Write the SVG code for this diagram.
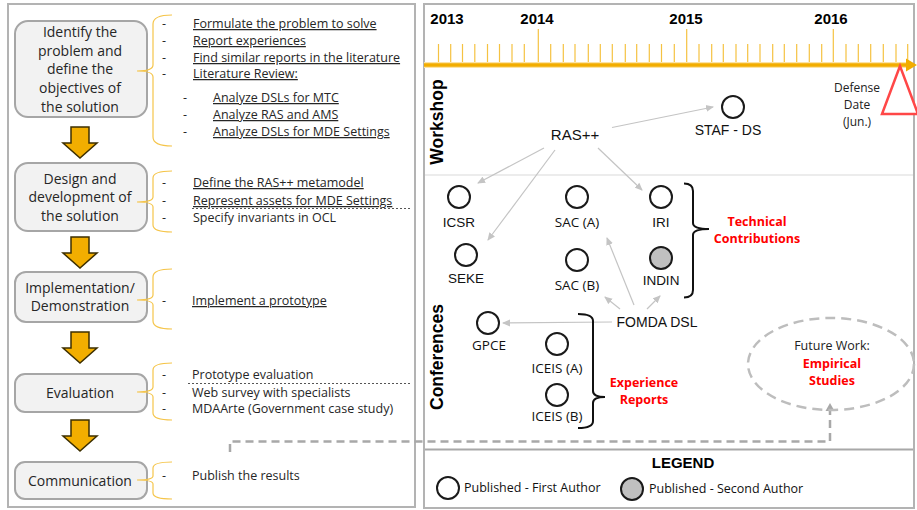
<svg xmlns="http://www.w3.org/2000/svg" width="917" height="510" viewBox="0 0 917 510">
<defs>
<style>
.panel{fill:#fff;stroke:#b3b3b3;stroke-width:2}
.box{fill:#f2f2f2;stroke:#a6a6a6;stroke-width:2}
.bt{font-family:"Open Sans","DejaVu Sans",sans-serif;font-size:14px;fill:#262626;text-anchor:middle}
.it{font-family:"Open Sans","DejaVu Sans",sans-serif;font-size:12.5px;fill:#262626}
.u{text-decoration:underline}
.brace{fill:none;stroke:#f5c54a;stroke-width:1.2}
.oarr{fill:#f2ae00;stroke:#3d2f00;stroke-width:1.5;stroke-linejoin:miter}
.dot{stroke:#555;stroke-width:1;stroke-dasharray:2,2}
.yr{font-family:"Liberation Sans",Arial,sans-serif;font-size:15px;font-weight:bold;fill:#000;text-anchor:middle}
.tick{stroke:#f5c242;stroke-width:1.2;fill:none}
.node{fill:#fff;stroke:#1a1a1a;stroke-width:2}
.node2{fill:#c0c0c0;stroke:#1a1a1a;stroke-width:2}
.lab{font-family:"Liberation Sans",Arial,sans-serif;font-size:13.5px;fill:#111;text-anchor:middle}
.lab2{font-family:"Open Sans","DejaVu Sans",sans-serif;font-size:13.5px;fill:#111;text-anchor:middle}
.red{font-family:"Open Sans","DejaVu Sans",sans-serif;font-size:12.5px;font-weight:bold;fill:#ff0000;text-anchor:middle}
.sm{font-family:"Open Sans","DejaVu Sans",sans-serif;font-size:12px;fill:#222;text-anchor:middle}
.conn{stroke:#c4c4c4;stroke-width:1.2;fill:none;marker-end:url(#ga)}
.bb{fill:none;stroke:#111;stroke-width:2}
.vt{font-family:"Liberation Sans",Arial,sans-serif;font-size:17.5px;font-weight:bold;fill:#000;text-anchor:middle}
.leg{font-family:"Open Sans","DejaVu Sans",sans-serif;font-size:12.5px;fill:#111}
</style>
<marker id="ga" markerWidth="8" markerHeight="8" refX="7" refY="4" orient="auto" markerUnits="userSpaceOnUse">
<path d="M0,0.5 L8,4 L0,7.5 Z" fill="#c4c4c4"/>
</marker>
<marker id="da" markerWidth="10" markerHeight="10" refX="5" refY="9" orient="0" markerUnits="userSpaceOnUse">
<path d="M0.5,9 L5,1 L9.5,9 Z" fill="#a8a8a8"/>
</marker>
</defs>
<rect width="917" height="510" fill="#fff"/>
<rect class="panel" x="8" y="4" width="407" height="503"/>
<rect class="panel" x="424" y="4" width="490" height="504"/>

<!-- Left panel: process steps -->
<g id="step1">
<rect class="box" x="15" y="21" width="132" height="96" rx="13"/>
<text class="bt" x="80" y="37">Identify the</text>
<text class="bt" x="80" y="56">problem and</text>
<text class="bt" x="80" y="74">define the</text>
<text class="bt" x="80" y="93">objectives of</text>
<text class="bt" x="80" y="112">the solution</text>
</g>
<g id="step1-items">
<path class="brace" d="M172,15 Q153,15 153,24 L153,65 Q153,71 137,71 Q153,71 153,77 L153,137 Q153,146 172,146"/>
<text class="it" x="162" y="28">-</text><text class="it u" x="193" y="28">Formulate the problem to solve</text>
<text class="it" x="162" y="45">-</text><text class="it u" x="193" y="45">Report experiences</text>
<text class="it" x="162" y="62">-</text><text class="it u" x="193" y="62">Find similar reports in the literature</text>
<text class="it" x="162" y="78">-</text><text class="it u" x="193" y="78">Literature Review:</text>
<text class="it" x="183" y="102">-</text><text class="it u" x="213" y="102">Analyze DSLs for MTC</text>
<text class="it" x="183" y="119">-</text><text class="it u" x="213" y="119">Analyze RAS and AMS</text>
<text class="it" x="183" y="136">-</text><text class="it u" x="213" y="136">Analyze DSLs for MDE Settings</text>
</g>
<g id="step2">
<rect class="box" x="15" y="163" width="132" height="68" rx="13"/>
<text class="bt" x="80" y="184">Design and</text>
<text class="bt" x="80" y="202">development of</text>
<text class="bt" x="80" y="221">the solution</text>
</g>
<g id="step2-items">
<path class="brace" d="M172,171 Q153,171 153,178 L153,197 Q153,202 137,202 Q153,202 153,207 L153,225 Q153,232 172,232"/>
<text class="it" x="162" y="187">-</text><text class="it u" x="193" y="187">Define the RAS++ metamodel</text>
<text class="it" x="162" y="205">-</text><text class="it u" x="193" y="205">Represent assets for MDE Settings</text>
<line class="dot" x1="192" y1="208.5" x2="411" y2="208.5"/>
<text class="it" x="162" y="222">-</text><text class="it" x="193" y="222">Specify invariants in OCL</text>
</g>
<g id="step3">
<rect class="box" x="15" y="272" width="132" height="50" rx="11"/>
<text class="bt" x="80" y="293">Implementation/</text>
<text class="bt" x="80" y="311">Demonstration</text>
</g>
<g id="step3-items">
<path class="brace" d="M172,269 Q153,269 153,277 L153,295 Q153,300 137,300 Q153,300 153,305 L153,321 Q153,329 172,329"/>
<text class="it" x="162" y="305">-</text><text class="it u" x="192" y="305">Implement a prototype</text>
</g>
<g id="step4">
<rect class="box" x="15" y="374" width="132" height="38" rx="10"/>
<text class="bt" x="80" y="398">Evaluation</text>
</g>
<g id="step4-items">
<path class="brace" d="M172,363 Q153,363 153,370 L153,387 Q153,392 137,392 Q153,392 153,397 L153,413 Q153,420 172,420"/>
<text class="it" x="162" y="379">-</text><text class="it" x="192" y="379">Prototype evaluation</text>
<line class="dot" x1="188" y1="383.5" x2="410" y2="383.5"/>
<text class="it" x="162" y="397">-</text><text class="it" x="192" y="397">Web survey with specialists</text>
<text class="it" x="162" y="413">-</text><text class="it" x="192" y="413">MDAArte (Government case study)</text>
</g>
<g id="step5">
<rect class="box" x="15" y="462" width="132" height="37" rx="10"/>
<text class="bt" x="80" y="486">Communication</text>
</g>
<g id="step5-items">
<path class="brace" d="M172,462 Q153,462 153,468 L153,476 Q153,480 137,480 Q153,480 153,484 L153,493 Q153,499 172,499"/>
<text class="it" x="162" y="480">-</text><text class="it" x="192" y="480">Publish the results</text>
</g>
<g id="flow-arrows">
<path class="oarr" d="M71,127 H89 V143 H97 L80,158 L63,143 H71 Z"/>
<path class="oarr" d="M71,237 H89 V253 H97 L80,268 L63,253 H71 Z"/>
<path class="oarr" d="M71,332 H89 V348 H97 L80,363 L63,348 H71 Z"/>
<path class="oarr" d="M71,420 H89 V436 H97 L80,451 L63,436 H71 Z"/>
</g>

<!-- Right panel: timeline -->
<g id="timeline">
<path class="tick" d="M438.5,44V64M450.7,44V64M462.5,44V64M474.8,44V64M487.5,44V64M499.5,44V64M512,44V64M524.3,44V64M538.3,29V64M550.7,44V64M563.3,44V64M575,44V64M588.3,44V64M600.3,44V64M612.3,44V64M625.3,44V64M636.7,44V64M649.3,44V64M661.5,44V64M674.3,44V64M686.7,29V64M699,44V64M711.7,44V64M723.3,44V64M736,44V64M747.7,44V64M760,44V64M772.7,44V64M784.3,44V64M796.7,44V64M809.3,44V64M821.7,44V64M833.3,29V64M846,44V64M858.3,44V64M870.7,44V64M883.3,44V64M896,44V64M907.7,44V64"/>
<line x1="424" y1="65" x2="909" y2="65" stroke="#fbe3a6" stroke-width="6"/>
<line x1="424" y1="65" x2="909" y2="65" stroke="#f2ad00" stroke-width="3.5"/>
<path d="M906,58.5 L917,65 L906,71.5 Z" fill="#f2ad00"/>
<text class="yr" x="447" y="24">2013</text>
<text class="yr" x="537" y="24">2014</text>
<text class="yr" x="686" y="24">2015</text>
<text class="yr" x="831" y="24">2016</text>
</g>
<g id="defense">
<path d="M900,66 L882,114 L918,114 Z" fill="#fff" stroke="#ff4747" stroke-width="2.5" stroke-linejoin="miter"/>
<text class="sm" x="857" y="92">Defense</text>
<text class="sm" x="857" y="109">Date</text>
<text class="sm" x="857" y="126">(Jun.)</text>
</g>
<line x1="425" y1="175" x2="913" y2="175" stroke="#ececec" stroke-width="2"/>
<text class="vt" transform="translate(443,122) rotate(-90)">Workshop</text>
<text class="vt" transform="translate(443,357) rotate(-90)">Conferences</text>

<!-- Connectors -->
<g id="connectors">
<line class="conn" x1="612" y1="127.5" x2="713" y2="107"/>
<line class="conn" x1="544" y1="148" x2="478" y2="183"/>
<line class="conn" x1="555" y1="150" x2="488" y2="240"/>
<line class="conn" x1="598" y1="148" x2="642" y2="190"/>
<line class="conn" x1="634" y1="305" x2="607" y2="238"/>
<line class="conn" x1="620" y1="309" x2="605" y2="297"/>
<line class="conn" x1="647" y1="309" x2="660" y2="296"/>
<line class="conn" x1="612" y1="322" x2="503" y2="323"/>
<path d="M230,452 V441.5 H830 V411" fill="none" stroke="#a8a8a8" stroke-width="2.5" stroke-dasharray="8,5" marker-end="url(#da)"/>
</g>

<!-- Nodes -->
<g id="ras"><text class="lab" x="575" y="140" style="font-size:15px">RAS++</text></g>
<g id="staf"><circle class="node" cx="733" cy="107" r="11"/><text class="lab" x="728" y="135" style="font-size:14px">STAF - DS</text></g>
<g id="icsr"><circle class="node" cx="459" cy="197" r="11"/><text class="lab" x="459" y="227">ICSR</text></g>
<g id="seke"><circle class="node" cx="466" cy="255" r="11"/><text class="lab" x="466" y="283">SEKE</text></g>
<g id="saca"><circle class="node" cx="577" cy="197" r="11"/><text class="lab2" x="577" y="227">SAC (A)</text></g>
<g id="sacb"><circle class="node" cx="577" cy="260" r="11"/><text class="lab2" x="577" y="290">SAC (B)</text></g>
<g id="iri"><circle class="node" cx="661" cy="197" r="11"/><text class="lab" x="661" y="227">IRI</text></g>
<g id="indin"><circle class="node2" cx="661" cy="258" r="11"/><text class="lab" x="661" y="285">INDIN</text></g>
<g id="fomda"><text class="lab" x="657" y="327" style="font-size:14px">FOMDA DSL</text></g>
<g id="gpce"><circle class="node" cx="488" cy="323" r="11"/><text class="lab2" x="489" y="350">GPCE</text></g>
<g id="iceisa"><circle class="node" cx="557" cy="344" r="11"/><text class="lab2" x="557" y="373">ICEIS (A)</text></g>
<g id="iceisb"><circle class="node" cx="557" cy="395" r="11"/><text class="lab2" x="557" y="421">ICEIS (B)</text></g>

<g id="tech-contrib">
<path class="bb" d="M684,183.5 Q693,183.5 693,191 L693,223 Q693,229 709,229 Q693,229 693,235 L693,290 Q693,297.5 684,297.5"/>
<text class="red" x="757" y="226">Technical</text>
<text class="red" x="757" y="243">Contributions</text>
</g>
<g id="exp-reports">
<path class="bb" d="M578,314 Q593,314 593,321 L593,391 Q593,397 605,397 Q593,397 593,403 L593,421 Q593,428 578,428"/>
<text class="red" x="644" y="387">Experience</text>
<text class="red" x="644" y="404">Reports</text>
</g>
<g id="future-work">
<ellipse cx="831" cy="364" rx="83" ry="46" fill="none" stroke="#bdbdbd" stroke-width="2.5" stroke-dasharray="10,6"/>
<text class="sm" x="832" y="350" style="font-size:12.5px">Future Work:</text>
<text class="red" x="832" y="368">Empirical</text>
<text class="red" x="832" y="385">Studies</text>
</g>

<g id="legend">
<line x1="425" y1="449.5" x2="913" y2="449.5" stroke="#a8a8a8" stroke-width="2"/>
<text class="yr" x="683" y="468">LEGEND</text>
<circle class="node" cx="448" cy="488" r="11"/>
<text class="leg" x="464" y="492">Published - First Author</text>
<circle class="node2" cx="632" cy="489" r="11"/>
<text class="leg" x="649" y="493">Published - Second Author</text>
</g>
</svg>
